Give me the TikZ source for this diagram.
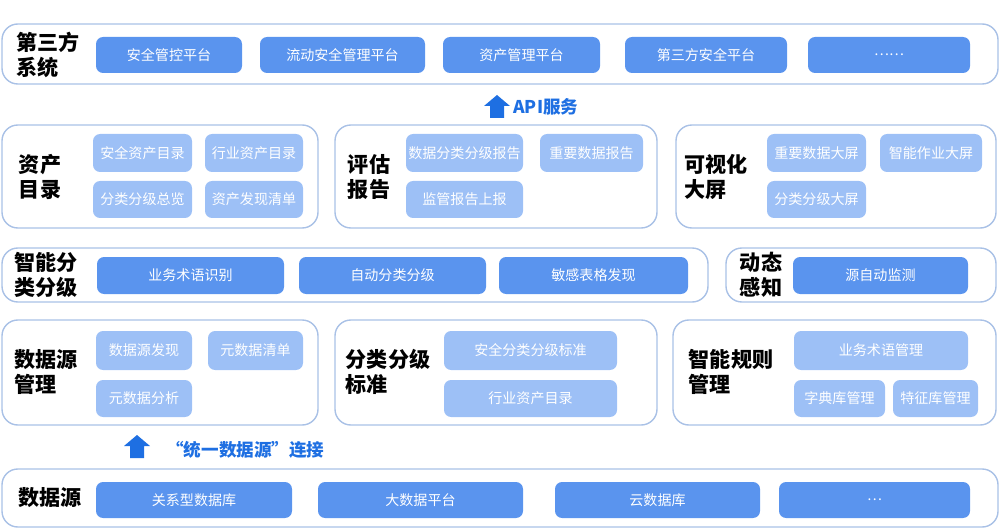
\documentclass[tikz,border=0pt]{standalone}
\usepackage{fontspec}
\setmainfont{Noto Sans CJK SC}
\usetikzlibrary{positioning}
\definecolor{darkblu}{HTML}{5A94EE}
\definecolor{lightblu}{HTML}{9DC0F6}
\definecolor{edgeblu}{HTML}{A9C1E6}
\definecolor{textblu}{HTML}{1E6FE2}

% box from pixel corners: style, name, x1, y1, x2, y2, text
\newcommand{\blk}[7]{%
  \node[#1, minimum width={(#5-#3)*0.02cm}, minimum height={(#6-#4)*0.02cm}]
    (#2) at ({(#3+#5)/2},{(#4+#6)/2}) {#7};}
% block up arrow with its tip at (x,y)
\newcommand{\uparr}[2]{%
  \fill[textblu] (#1,#2) -- ++(13,11) -- ++(-6,0) -- ++(0,12) -- ++(-14,0)
    -- ++(0,-12) -- ++(-6,0) -- cycle;}

\begin{document}
\begin{tikzpicture}[x=0.02cm, y=-0.02cm,
    panel/.style={draw=edgeblu, line width=0.8pt, rounded corners=9pt, inner sep=0pt},
    dk/.style={fill=darkblu, rounded corners=4pt, text=white, font=\footnotesize, inner sep=0pt},
    lt/.style={fill=lightblu, rounded corners=4pt, text=white, font=\footnotesize, inner sep=0pt},
    title/.style={font=\large\bfseries, align=left, inner sep=0pt},
    bluetext/.style={text=textblu, font=\bfseries, inner sep=0pt, anchor=west}]
  \useasboundingbox (0,0) rectangle (1000,530);

  % third party systems
  \blk{panel}{third}{2}{24}{998}{84}{}
  \node[title] (thirdT) at (48,55) {第三方\\系统};
  \blk{dk}{s1}{96}{37}{242}{73}{安全管控平台}
  \blk{dk}{s2}{260}{37}{425}{73}{流动安全管理平台}
  \blk{dk}{s3}{443}{37}{600}{73}{资产管理平台}
  \blk{dk}{s4}{625}{37}{787}{73}{第三方安全平台}
  \blk{dk}{s5}{808}{37}{970}{73}{……}

  % api
  \uparr{497}{95}
  \node[bluetext] (apiT) at (513,107) {API服务};

  % row 2
  \blk{panel}{cat}{2}{125}{318}{228}{}
  \node[title] (catT) at (40,177) {资产\\目录};
  \blk{lt}{c1}{93}{134}{192}{172}{安全资产目录}
  \blk{lt}{c2}{205}{134}{303}{172}{行业资产目录}
  \blk{lt}{c3}{93}{181}{192}{218}{分类分级总览}
  \blk{lt}{c4}{205}{181}{303}{218}{资产发现清单}

  \blk{panel}{rep}{335}{125}{657}{228}{}
  \node[title] (repT) at (369,177) {评估\\报告};
  \blk{lt}{r1}{406}{134}{523}{172}{数据分类分级报告}
  \blk{lt}{r2}{540}{134}{643}{172}{重要数据报告}
  \blk{lt}{r3}{406}{181}{523}{218}{监管报告上报}

  \blk{panel}{vis}{676}{125}{996}{228}{}
  \node[title] (visT) at (716,177) {可视化\\大屏};
  \blk{lt}{v1}{767}{134}{866}{172}{重要数据大屏}
  \blk{lt}{v2}{880}{134}{982}{172}{智能作业大屏}
  \blk{lt}{v3}{767}{181}{866}{218}{分类分级大屏}

  % row 3
  \blk{panel}{cls}{2}{248}{708}{302}{}
  \node[title] (clsT) at (46,275) {智能分\\类分级};
  \blk{dk}{k1}{97}{257}{284}{294}{业务术语识别}
  \blk{dk}{k2}{299}{257}{486}{294}{自动分类分级}
  \blk{dk}{k3}{499}{257}{688}{294}{敏感表格发现}
  \blk{panel}{dyn}{726}{248}{996}{302}{}
  \node[title] (dynT) at (761,275) {动态\\感知};
  \blk{dk}{d1}{793}{257}{968}{294}{源自动监测}

  % row 4
  \blk{panel}{src}{2}{320}{318}{425}{}
  \node[title] (srcT) at (46,372) {数据源\\管理};
  \blk{lt}{m1}{96}{331}{192}{370}{数据源发现}
  \blk{lt}{m2}{208}{331}{303}{370}{元数据清单}
  \blk{lt}{m3}{96}{380}{192}{417}{元数据分析}

  \blk{panel}{std}{335}{320}{657}{425}{}
  \node[title] (stdT) at (388,372) {分类分级\\标准};
  \blk{lt}{t1}{444}{331}{617}{370}{安全分类分级标准}
  \blk{lt}{t2}{444}{380}{617}{417}{行业资产目录}

  \blk{panel}{rul}{673}{320}{996}{425}{}
  \node[title] (rulT) at (731,372) {智能规则\\管理};
  \blk{lt}{u1}{794}{331}{968}{370}{业务术语管理}
  \blk{lt}{u2}{794}{380}{885}{417}{字典库管理}
  \blk{lt}{u3}{893}{380}{978}{417}{特征库管理}

  % unified source
  \uparr{137}{435}
  \node[bluetext] (uniT) at (166,450) {“统一数据源”连接};

  % row 5
  \blk{panel}{db}{2}{469}{998}{527}{}
  \node[title] (dbT) at (50,498) {数据源};
  \blk{dk}{b1}{96}{482}{292}{518}{关系型数据库}
  \blk{dk}{b2}{318}{482}{523}{518}{大数据平台}
  \blk{dk}{b3}{555}{482}{760}{518}{云数据库}
  \blk{dk}{b4}{779}{482}{970}{518}{…}
\end{tikzpicture}
\end{document}
